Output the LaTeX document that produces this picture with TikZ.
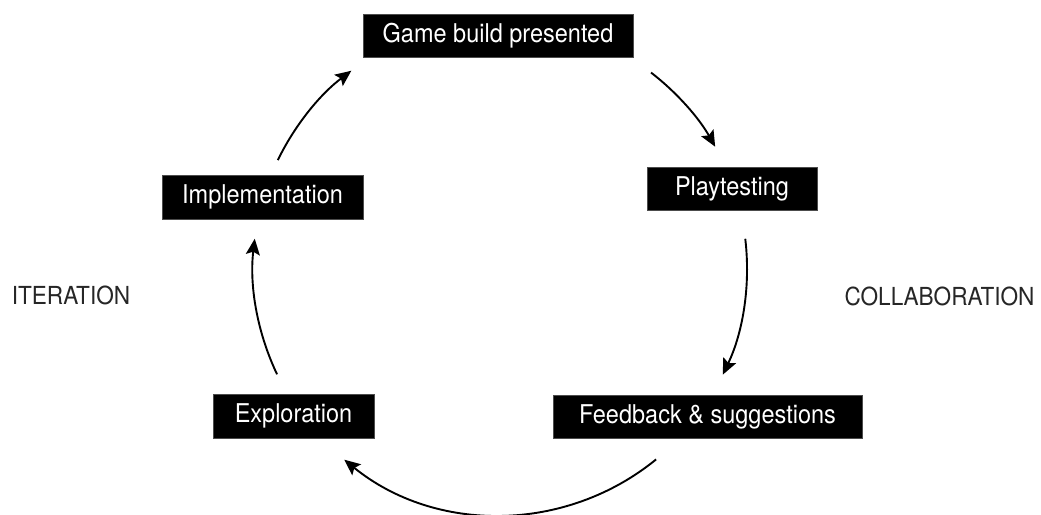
\documentclass[tikz,border=0pt]{standalone}
\usepackage{fontspec}
\usepackage{graphicx}
\setmainfont{TeX Gyre Heros}
\usetikzlibrary{arrows.meta,calc}
\newcommand{\tallertext}[1]{\scalebox{1}[1.1]{#1}}
\begin{document}
\begin{tikzpicture}[x=1pt,y=1pt,
  stagebox/.style={fill=black,draw=black!70,line width=0.6pt,text=white,inner sep=0pt,
    font=\fontsize{23.5}{28}\selectfont},
  sidelabel/.style={text=black!85,inner sep=0pt,anchor=base,font=\fontsize{22.6}{27}\selectfont},
  cyc/.style={line width=1.9pt,-{Stealth[length=16pt,width=14pt,inset=3pt]}}]
\useasboundingbox (0,0) rectangle (1041,514);
\coordinate (O) at (500,246);
\def\R{247}
% stages
\node[stagebox,minimum width=270pt,minimum height=43pt] (game) at (498,478.5) {\tallertext{Game build presented}};
\node[stagebox,minimum width=170pt,minimum height=43pt] (play) at (732,325.5) {\tallertext{Playtesting}};
\node[stagebox,minimum width=309pt,minimum height=43pt] (feed) at (707.5,97.5) {\tallertext{Feedback \& suggestions}};
\node[stagebox,minimum width=161pt,minimum height=44pt] (expl) at (293.5,98) {\tallertext{Exploration}};
\node[stagebox,minimum width=201pt,minimum height=44pt] (impl) at (262.5,317) {\tallertext{Implementation}};
% side labels
\node[sidelabel] (iter) at (71,209) {\tallertext{ITERATION}};
\node[sidelabel] (collab) at (939.5,208) {\tallertext{COLLABORATION}};
% arc end points on the cycle circle
\coordinate (a1) at ($(O)+(52.3:\R)$);
\coordinate (a2) at ($(O)+(6.8:\R)$);
\coordinate (a3) at ($(O)+(-50.8:\R)$);
\coordinate (a4) at ($(O)+(-154.5:\R)$);
\coordinate (a5) at ($(O)+(154.1:\R)$);
% connectors
\draw[cyc] (a1) arc[start angle=52.3,end angle=29.4,radius=\R];
\draw[cyc] (a2) arc[start angle=6.8,end angle=-25.6,radius=\R];
\draw[cyc] (a3) arc[start angle=-50.8,end angle=-129.1,radius=\R];
\draw[cyc] (a4) arc[start angle=-154.5,end angle=-186.8,radius=\R];
\draw[cyc] (a5) arc[start angle=154.1,end angle=127,radius=\R];
\end{tikzpicture}
\end{document}
